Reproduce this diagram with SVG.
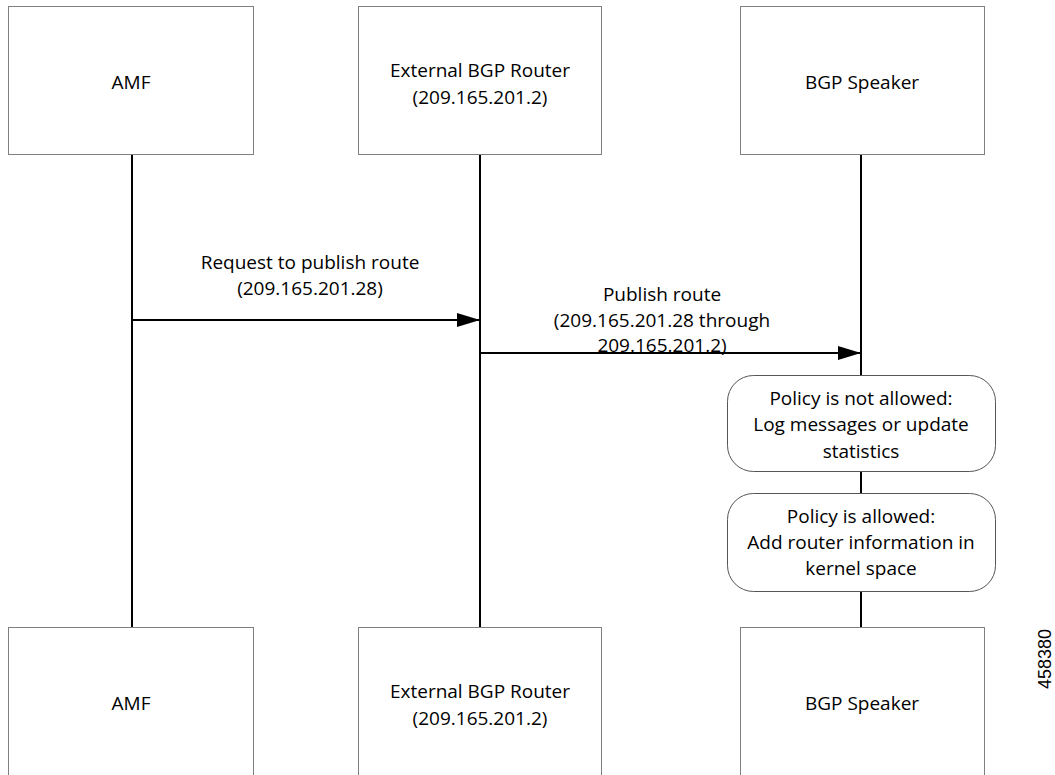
<svg xmlns="http://www.w3.org/2000/svg" width="1055" height="775" viewBox="0 0 1055 775">
<defs>
<style>
.box{fill:#fff;stroke:#808080;stroke-width:1}
.rbox{fill:#fff;stroke:#555;stroke-width:1}
.ll{stroke:#000;stroke-width:2;fill:none}
.t{font-family:"Open Sans","Liberation Sans",sans-serif;font-size:19px;fill:#000;text-anchor:middle}
.side{font-family:"Liberation Sans",sans-serif;font-size:18px;fill:#000;text-anchor:middle}
</style>
<marker id="arr" markerWidth="24" markerHeight="16" refX="23" refY="7" orient="auto" markerUnits="userSpaceOnUse">
<path d="M0,0 L23,7 L0,14 Z" fill="#000"/>
</marker>
</defs>
<g id="lifelines" class="ll">
<line x1="132" y1="155" x2="132" y2="627"/>
<line x1="480" y1="155" x2="480" y2="627"/>
<line x1="861" y1="155" x2="861" y2="627"/>
</g>
<g id="connectors">
<line class="ll" x1="132" y1="320" x2="480" y2="320" marker-end="url(#arr)"/>
<line class="ll" x1="480" y1="353" x2="861" y2="353" marker-end="url(#arr)"/>
<text class="t" x="310" y="269">Request to publish route</text>
<text class="t" x="310" y="295">(209.165.201.28)</text>
<text class="t" x="662" y="301">Publish route</text>
<text class="t" x="662" y="327">(209.165.201.28 through</text>
<text class="t" x="662" y="352">209.165.201.2)</text>
</g>
<g id="amf-top"><rect class="box" x="8.5" y="6.5" width="245" height="148"/><text class="t" x="131" y="89">AMF</text></g>
<g id="ext-top"><rect class="box" x="358.5" y="6.5" width="243" height="148"/><text class="t" x="480" y="77">External BGP Router</text><text class="t" x="480" y="104">(209.165.201.2)</text></g>
<g id="bgp-top"><rect class="box" x="740.5" y="6.5" width="244" height="148"/><text class="t" x="862" y="89">BGP Speaker</text></g>
<g id="not-allowed"><rect class="rbox" x="727.5" y="375.5" width="268" height="96" rx="26"/><text class="t" x="861" y="405">Policy is not allowed:</text><text class="t" x="861" y="431">Log messages or update</text><text class="t" x="861" y="458">statistics</text></g>
<g id="allowed"><rect class="rbox" x="727.5" y="493.5" width="268" height="98" rx="26"/><text class="t" x="861" y="523">Policy is allowed:</text><text class="t" x="861" y="549">Add router information in</text><text class="t" x="861" y="575">kernel space</text></g>
<g id="amf-bottom"><rect class="box" x="8.5" y="627.5" width="245" height="150"/><text class="t" x="131" y="710">AMF</text></g>
<g id="ext-bottom"><rect class="box" x="358.5" y="627.5" width="243" height="150"/><text class="t" x="480" y="698">External BGP Router</text><text class="t" x="480" y="725">(209.165.201.2)</text></g>
<g id="bgp-bottom"><rect class="box" x="740.5" y="627.5" width="244" height="150"/><text class="t" x="862" y="710">BGP Speaker</text></g>
<text class="side" transform="translate(1051,659) rotate(-90)">458380</text>
</svg>
